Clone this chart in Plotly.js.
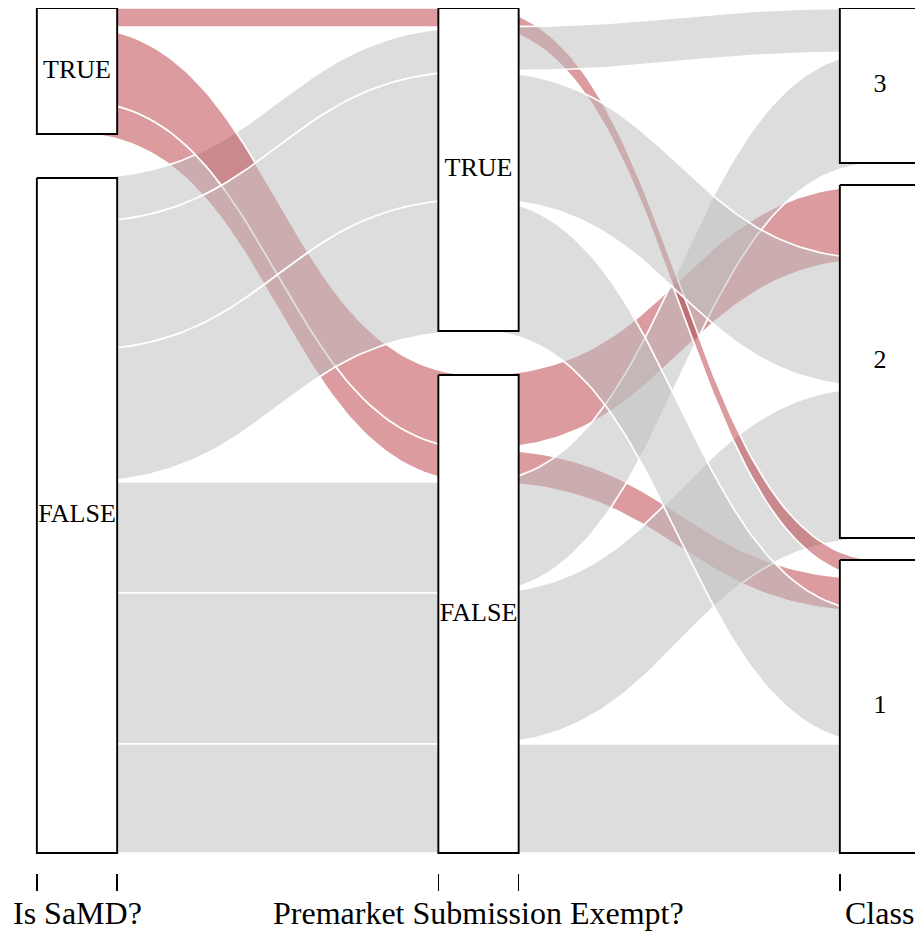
<!DOCTYPE html>
<html>
<head>
<meta charset="utf-8">
<script src="https://cdn.plot.ly/plotly-3.0.1.min.js"></script>
<style>html,body{margin:0;padding:0;background:#fff;}#chart{width:915px;height:931px;}</style>
</head>
<body>
<div id="chart"></div>
<script>
// ---- data: one entry per combination ----
const axisNames = ['Is SaMD?', 'Premarket Submission Exempt?', 'Class'];
const samdLevels = ['TRUE', 'FALSE'];
const exemptLevels = ['TRUE', 'FALSE'];
const classLevels = ['3', '2', '1'];
const isSaMD  = ['TRUE','TRUE','TRUE','FALSE','FALSE','FALSE','FALSE','FALSE','FALSE'];
const exempt  = ['TRUE','FALSE','FALSE','TRUE','TRUE','TRUE','FALSE','FALSE','FALSE'];
const klass   = ['1','2','1','3','2','1','3','2','1'];
const counts  = [19, 74, 33, 44, 128, 132, 111, 151, 109];

// ---- layout of the parallel sets ----
const vars = [isSaMD, exempt, klass];
const levels = [samdLevels, exemptLevels, classLevels];
const total = counts.reduce((a, b) => a + b, 0);
const SEP = 0.055;
const sepTotal = SEP * total;
const H = total + sepTotal;
const HALF = 0.1;

const tops = [], strata = [];
for (let k = 0; k < vars.length; k++) {
  const keyOrder = [k].concat([0, 1, 2].filter(j => j !== k));
  const idx = counts.map((_, i) => i).sort((a, b) => {
    for (const j of keyOrder) {
      const d = levels[j].indexOf(vars[j][a]) - levels[j].indexOf(vars[j][b]);
      if (d !== 0) return d;
    }
    return 0;
  });
  const gap = sepTotal / (levels[k].length - 1);
  const t = new Array(counts.length);
  const st = [];
  let pos = 0;
  levels[k].forEach(lv => {
    const start = pos;
    idx.filter(i => vars[k][i] === lv).forEach(i => { t[i] = pos; pos += counts[i]; });
    st.push({level: lv, from: start, to: pos});
    pos += gap;
  });
  tops.push(t);
  strata.push(st);
}
const Y = p => H - p;

function bez(x0, y0, x1, y1, n) {
  const xm = (x0 + x1) / 2, xs = [], ys = [];
  for (let s = 0; s <= n; s++) {
    const t = s / n, u = 1 - t;
    xs.push(u*u*u*x0 + 3*u*u*t*xm + 3*u*t*t*xm + t*t*t*x1);
    ys.push(u*u*u*y0 + 3*u*u*t*y0 + 3*u*t*t*y1 + t*t*t*y1);
  }
  return [xs, ys];
}

const SERIF = 'Liberation Serif';
const greyFill = 'rgba(190,190,190,0.52)';
const redFill = 'rgba(180,45,55,0.48)';
const traces = [];
function ribbon(k, i) {
  const x0 = k + 1, x1 = k + 2;
  const a0 = tops[k][i], a1 = tops[k + 1][i];
  const [tx, ty] = bez(x0, Y(a0), x1, Y(a1), 80);
  const [bx, by] = bez(x1, Y(a1 + counts[i]), x0, Y(a0 + counts[i]), 80);
  traces.push({
    type: 'scatter', mode: 'lines', x: tx.concat(bx, [tx[0]]), y: ty.concat(by, [ty[0]]),
    fill: 'toself', fillcolor: isSaMD[i] === 'TRUE' ? redFill : greyFill,
    line: {color: '#ffffff', width: 1.7}, hoverinfo: 'skip', showlegend: false
  });
}
// drawing order of the ribbons (indices into the arrays above)
const order1 = [0, 2, 3, 1, 4, 5, 6, 7, 8];
const order2 = [1, 2, 6, 7, 8, 0, 3, 4, 5];
order1.forEach(i => ribbon(0, i));
order2.forEach(i => ribbon(1, i));

// strata boxes
const lx = [], ly = [], lt = [];
strata.forEach((st, k) => {
  const c = k + 1;
  st.forEach(s => {
    traces.push({
      type: 'scatter', mode: 'lines',
      x: [c - HALF, c + HALF, c + HALF, c - HALF, c - HALF],
      y: [Y(s.from), Y(s.from), Y(s.to), Y(s.to), Y(s.from)],
      fill: 'toself', fillcolor: '#ffffff', line: {color: '#000000', width: 1.9},
      hoverinfo: 'skip', showlegend: false
    });
    lx.push(c); ly.push(Y((s.from + s.to) / 2)); lt.push(s.level);
  });
});
traces.push({type: 'scatter', mode: 'text', x: lx, y: ly, text: lt,
  textfont: {family: SERIF, size: 26, color: '#000'},
  hoverinfo: 'skip', showlegend: false, cliponaxis: false});

const edges = [];
[1, 2, 3].forEach(c => { edges.push(c - HALF, c + HALF); });
const xr = [0.8082, 3.0872];
const layout = {
  width: 915, height: 931,
  margin: {l: 0, r: 0, t: 8, b: 58},
  paper_bgcolor: '#fff', plot_bgcolor: '#fff',
  showlegend: false,
  xaxis: {range: xr, tickvals: edges, ticktext: edges.map(() => ''), ticks: 'outside',
    ticklen: 17, tickwidth: 1.6, tickcolor: '#000', showgrid: false, zeroline: false,
    showline: false, fixedrange: true},
  yaxis: {range: [-20, H], showgrid: false, zeroline: false, showticklabels: false, ticks: '', showline: false},
  font: {family: SERIF},
  annotations: axisNames.map((name, k) => ({
    text: name, x: k + 1, xref: 'x', y: 0, yref: 'paper', yanchor: 'top', xanchor: 'center',
    yshift: -20, showarrow: false,
    font: {family: SERIF, size: 32, color: '#000'}
  }))
};
Plotly.newPlot('chart', traces, layout, {displayModeBar: false, staticPlot: true});
</script>
</body>
</html>
